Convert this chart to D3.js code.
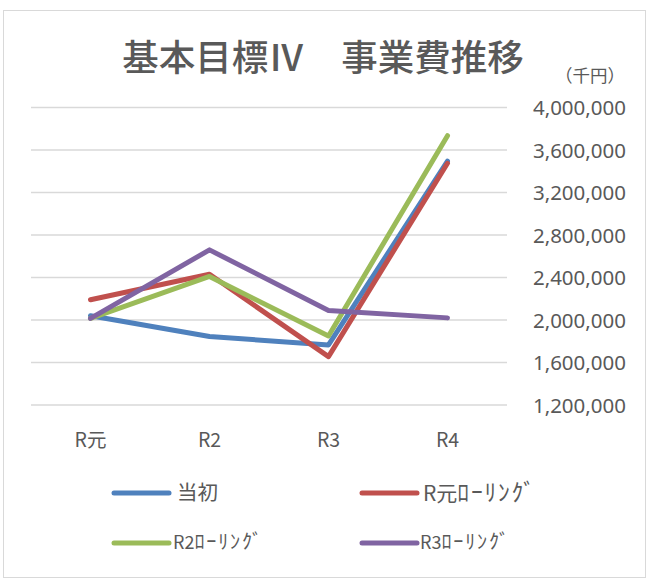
<!DOCTYPE html>
<html>
<head>
<meta charset="utf-8">
<script src="https://cdn.jsdelivr.net/npm/d3@7"></script>
<style>
  body { margin: 0; background: #fff; }
  text { font-family: "Noto Sans CJK JP", "Noto Sans", sans-serif; fill: #595959; }
</style>
</head>
<body>
<div id="container"></div>
<script>
let categories = ["R元", "R2", "R3", "R4"];
let seriesNames = ["当初", "R元ﾛｰﾘﾝｸﾞ", "R2ﾛｰﾘﾝｸﾞ", "R3ﾛｰﾘﾝｸﾞ"];
let touSho = [2040000, 1845000, 1765000, 3495000];
let rGanRolling = [2190000, 2430000, 1655000, 3475000];
let r2Rolling = [2015000, 2410000, 1850000, 3735000];
let r3Rolling = [2015000, 2660000, 2090000, 2020000];
let yTicks = [1200000, 1600000, 2000000, 2400000, 2800000, 3200000, 3600000, 4000000];
let colors = ["#4f81bd", "#c0504d", "#9bbb59", "#8064a2"];

let allSeries = [touSho, rGanRolling, r2Rolling, r3Rolling];

let w = 649;
let h = 580;

let svg = d3.select("#container")
  .append("svg")
  .attr("width", w)
  .attr("height", h);

// chart border
svg.append("rect")
  .attr("x", 3.5).attr("y", 10.5)
  .attr("width", 642).attr("height", 567)
  .attr("fill", "#fff")
  .attr("stroke", "#d9d9d9");

let x = d3.scaleBand()
  .domain(categories)
  .range([31, 507]);

let y = d3.scaleLinear()
  .domain([1200000, 4000000])
  .range([405, 107.5]);

// gridlines
svg.append("g")
  .selectAll("line")
  .data(yTicks)
  .enter()
  .append("line")
  .attr("x1", 31).attr("x2", 507)
  .attr("y1", d => y(d)).attr("y2", d => y(d))
  .attr("stroke", "#d9d9d9")
  .attr("stroke-width", 1.3);

// right axis labels
let yAxis = d3.axisRight(y).tickValues(yTicks).tickFormat(d3.format(",")).tickSize(0);
let ya = svg.append("g")
  .attr("transform", "translate(626,0)")
  .call(yAxis);
ya.select(".domain").remove();
ya.selectAll("text")
  .attr("x", 0)
  .attr("dy", "0.36em")
  .attr("text-anchor", "end")
  .style("font-family", "'Noto Sans', sans-serif")
  .style("font-size", "20.5px")
  .style("fill", "#595959");

// category labels
let xAxis = d3.axisBottom(x).tickSize(0);
let xa = svg.append("g")
  .attr("transform", "translate(0,426)")
  .call(xAxis);
xa.select(".domain").remove();
xa.selectAll("text")
  .attr("y", 0)
  .attr("dy", "21px")
  .style("font-size", "19.5px")
  .style("fill", "#595959")
  .style("font-family", "'Noto Sans CJK JP', sans-serif");

// lines
let line = d3.line()
  .x((d, i) => x(categories[i]) + x.bandwidth() / 2)
  .y(d => y(d));

svg.append("g")
  .selectAll("path")
  .data(allSeries)
  .enter()
  .append("path")
  .attr("d", d => line(d))
  .attr("fill", "none")
  .attr("stroke", (d, i) => colors[i])
  .attr("stroke-width", 5)
  .attr("stroke-linecap", "round")
  .attr("stroke-linejoin", "round");

// title
svg.append("text")
  .attr("x", 323).attr("y", 71)
  .attr("text-anchor", "middle")
  .style("font-size", "36.5px")
  .style("font-weight", "500")
  .text("基本目標Ⅳ　事業費推移");

svg.append("text")
  .attr("x", 625).attr("y", 82)
  .attr("text-anchor", "end")
  .style("font-size", "17.5px")
  .text("（千円）");

// legend
let legendPos = [[114, 493], [362, 493], [114, 543], [362, 543]];
let legendSize = [20.5, 21, 18, 18];
let legendGap = [63, 61, 59, 58];
let lg = svg.append("g")
  .selectAll("g")
  .data(seriesNames)
  .enter()
  .append("g")
  .attr("transform", (d, i) => "translate(" + legendPos[i][0] + "," + legendPos[i][1] + ")");

lg.append("line")
  .attr("x1", 0).attr("x2", 55)
  .attr("stroke", (d, i) => colors[i])
  .attr("stroke-width", 5)
  .attr("stroke-linecap", "round");

let lt = lg.append("text")
  .attr("x", (d, i) => legendGap[i])
  .attr("dy", "0.36em")
  .style("font-size", (d, i) => legendSize[i] + "px");

// half-width kana are wider in the original font, so spread them a bit
lt.each(function(d) {
  let k = d.indexOf("ﾛ");
  let t = d3.select(this);
  if (k < 0) { t.text(d); return; }
  t.append("tspan").text(d.slice(0, k));
  t.append("tspan")
    .style("font-size", "1.12em")
    .style("letter-spacing", "1.8px")
    .text(d.slice(k));
});
</script>
</body>
</html>
